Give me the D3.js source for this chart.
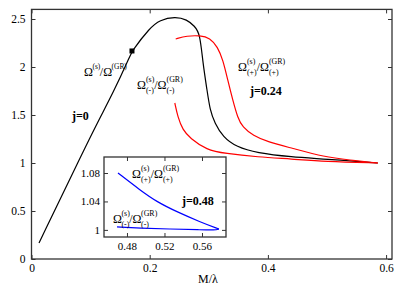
<!DOCTYPE html>
<html>
<head>
<meta charset="utf-8">
<script src="https://cdn.jsdelivr.net/npm/d3@7"></script>
<style>
  body { margin: 0; background: #fff; }
  text { font-family: "Liberation Serif", "Times New Roman", "DejaVu Serif", serif; fill: #000; }
</style>
</head>
<body>
<div id="chart"></div>
<script>
var chart_width  = 407;
var chart_height = 285;

// j = 0 (black)
var blackM = [0.0127, 0.082, 0.112, 0.138, 0.166, 0.170, 0.200, 0.217, 0.243, 0.263, 0.276, 0.285, 0.290, 0.297, 0.302, 0.310, 0.324, 0.347, 0.381, 0.440, 0.496, 0.586];
var blackW = [0.167, 1.052, 1.427, 1.729, 2.104, 2.167, 2.406, 2.490, 2.525, 2.495, 2.425, 2.350, 2.042, 1.760, 1.552, 1.417, 1.271, 1.167, 1.104, 1.062, 1.042, 1.0];
var markerM = [0.170];
var markerW = [2.167];

// j = 0.24 (red)
var redPlusM = [0.244, 0.263, 0.285, 0.302, 0.315, 0.324, 0.332, 0.3405, 0.349, 0.357, 0.375, 0.400, 0.440, 0.496, 0.538, 0.586];
var redPlusW = [2.292, 2.325, 2.328, 2.305, 2.208, 2.073, 1.865, 1.656, 1.469, 1.375, 1.285, 1.219, 1.156, 1.0625, 1.031, 1.0];
var redMinusM = [0.2425, 0.2476, 0.256, 0.268, 0.2966, 0.327, 0.383, 0.440, 0.496, 0.586];
var redMinusW = [1.625, 1.479, 1.344, 1.260, 1.135, 1.100, 1.0625, 1.042, 1.015, 1.0];

// j = 0.48 (blue, inset)
var bluePlusM = [0.4704, 0.4939, 0.512, 0.5334, 0.558, 0.5781];
var bluePlusW = [1.080, 1.056, 1.0393, 1.0253, 1.0112, 1.0012];
var blueMinusM = [0.4694, 0.4939, 0.526, 0.558, 0.574, 0.5781];
var blueMinusW = [1.0042, 1.0025, 1.0012, 1.0002, 0.9996, 1.0012];

var xTicks = [0, 0.2, 0.4, 0.6];
var yTicks = [0, 0.5, 1, 1.5, 2, 2.5];
var xTicksIn = [0.48, 0.52, 0.56];
var yTicksIn = [1, 1.04, 1.08];

var svg = d3.select('#chart')
    .append('svg')
    .attr('width', chart_width)
    .attr('height', chart_height);

// scales
var x_scale = d3.scaleLinear().domain([0, 0.61]).range([31.5, 392]);
var y_scale = d3.scaleLinear().domain([0, 2.6]).range([259, 9.4]);
var xi_scale = d3.scaleLinear().domain([0.4555, 0.5856]).range([104, 226]);
var yi_scale = d3.scaleLinear().domain([0.99, 1.1025]).range([237, 157]);

var fmt = d => String(d);
var serif = '"Liberation Serif", "Times New Roman", "DejaVu Serif", serif';

function drawAxes(g, xs, ys, xt, yt, fs, ypad) {
    var x0 = xs.range()[0], x1 = xs.range()[1];
    var y0 = ys.range()[0], y1 = ys.range()[1];
    g.append('rect')
        .attr('x', x0).attr('y', y1)
        .attr('width', x1 - x0).attr('height', y0 - y1)
        .attr('fill', '#fff');
    var b = g.append('g').attr('transform', `translate(0,${y0})`)
        .call(d3.axisBottom(xs).tickValues(xt).tickFormat(fmt).tickSizeInner(-4).tickSizeOuter(0).tickPadding(5));
    var t = g.append('g').attr('transform', `translate(0,${y1})`)
        .call(d3.axisTop(xs).tickValues(xt).tickFormat('').tickSizeInner(-4).tickSizeOuter(0));
    var l = g.append('g').attr('transform', `translate(${x0},0)`)
        .call(d3.axisLeft(ys).tickValues(yt).tickFormat(fmt).tickSizeInner(-4).tickSizeOuter(0).tickPadding(ypad));
    var r = g.append('g').attr('transform', `translate(${x1},0)`)
        .call(d3.axisRight(ys).tickValues(yt).tickFormat('').tickSizeInner(-4).tickSizeOuter(0));
    [b, t, l, r].forEach(a => {
        a.attr('font-family', serif);
        a.select('.domain').remove();
        a.selectAll('line').attr('stroke', '#333').attr('stroke-width', 1);
        a.selectAll('text').attr('font-family', serif).attr('font-size', fs).attr('fill', '#000');
    });
    g.append('rect')
        .attr('x', x0).attr('y', y1)
        .attr('width', x1 - x0).attr('height', y0 - y1)
        .attr('fill', 'none').attr('stroke', '#333').attr('stroke-width', 1.3);
}

var main = svg.append('g');
drawAxes(main, x_scale, y_scale, xTicks, yTicks, 11.5, 6);

function curve(g, xs, ys, mx, wy, color) {
    var line = d3.line()
        .x(d => xs(d[0]))
        .y(d => ys(d[1]))
        .curve(d3.curveBasis);
    g.append('path')
        .datum(d3.zip(mx, wy))
        .attr('d', line)
        .attr('fill', 'none')
        .attr('stroke', color)
        .attr('stroke-width', 1.2);
}

curve(main, x_scale, y_scale, blackM, blackW, '#000');
curve(main, x_scale, y_scale, redPlusM, redPlusW, '#f00');
curve(main, x_scale, y_scale, redMinusM, redMinusW, '#f00');

main.selectAll('rect.marker')
    .data(d3.zip(markerM, markerW))
    .enter()
    .append('rect')
    .attr('class', 'marker')
    .attr('x', d => x_scale(d[0]) - 2.5)
    .attr('y', d => y_scale(d[1]) - 2.5)
    .attr('width', 5).attr('height', 5)
    .attr('fill', '#000');

// inset
var inset = svg.append('g');
drawAxes(inset, xi_scale, yi_scale, xTicksIn, yTicksIn, 11, 4);
curve(inset, xi_scale, yi_scale, bluePlusM, bluePlusW, '#00f');
curve(inset, xi_scale, yi_scale, blueMinusM, blueMinusW, '#00f');

// labels with stacked super/subscripts; back = overlap of script with base
function label(x, y, parts, fs, ratio, back) {
    var g = svg.append('g');
    var cx = x;
    var small = fs * ratio;
    parts.forEach(p => {
        var t = g.append('text').attr('x', cx).attr('y', y)
            .attr('font-size', fs).text(p.t);
        cx += t.node().getComputedTextLength();
        if (!p.sup && !p.sub) return;
        cx -= back;
        var w = 0;
        if (p.sup) {
            var s = g.append('text').attr('x', cx).attr('y', y - fs * 0.55)
                .attr('font-size', small).text(p.sup);
            w = Math.max(w, s.node().getComputedTextLength());
        }
        if (p.sub) {
            var u = g.append('text').attr('x', cx).attr('y', y + fs * 0.3)
                .attr('font-size', small).text(p.sub);
            w = Math.max(w, u.node().getComputedTextLength());
        }
        cx += w - back;
    });
}

label(84, 76, [{t: 'Ω', sup: '(s)'}, {t: '/'}, {t: 'Ω', sup: '(GR)'}], 12, 0.62, 0.5);
label(137, 89, [{t: 'Ω', sup: '(s)', sub: '(-)'}, {t: '/'}, {t: 'Ω', sup: '(GR)', sub: '(-)'}], 12, 0.66, 0);
label(238, 71, [{t: 'Ω', sup: '(s)', sub: '(+)'}, {t: '/'}, {t: 'Ω', sup: '(GR)', sub: '(+)'}], 12, 0.66, 0);
label(132, 178, [{t: 'Ω', sup: '(s)', sub: '(+)'}, {t: '/'}, {t: 'Ω', sup: '(GR)', sub: '(+)'}], 12, 0.66, 0);
label(113, 223, [{t: 'Ω', sup: '(s)', sub: '(-)'}, {t: '/'}, {t: 'Ω', sup: '(GR)', sub: '(-)'}], 12, 0.66, 0.5);

svg.append('text').attr('x', 72).attr('y', 120)
    .attr('font-size', 12).attr('font-weight', 'bold').text('j=0');
svg.append('text').attr('x', 250).attr('y', 95)
    .attr('font-size', 12).attr('font-weight', 'bold').text('j=0.24');
svg.append('text').attr('x', 182).attr('y', 205)
    .attr('font-size', 12).attr('font-weight', 'bold').text('j=0.48');

svg.append('text').attr('x', 208).attr('y', 283)
    .attr('text-anchor', 'middle').attr('font-size', 12).text('M/λ');
</script>
</body>
</html>
